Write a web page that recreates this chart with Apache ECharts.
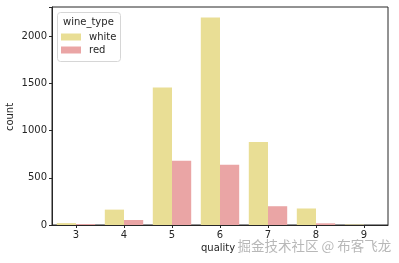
<!DOCTYPE html>
<html><head><meta charset="utf-8">
<script src="https://cdn.jsdelivr.net/npm/echarts@6/dist/echarts.min.js"></script>
<style>html,body{margin:0;padding:0;background:#fff}#c{width:399px;height:263px}</style>
</head><body><div id="c"></div>
<script>
const categories = ['3','4','5','6','7','8','9'];
const whiteCounts = [20, 163, 1457, 2198, 880, 175, 5];
const redCounts = [10, 53, 681, 638, 199, 18, 0];
const yTicks = [0, 500, 1000, 1500, 2000];
const font = 'DejaVu Sans';
const chart = echarts.init(document.getElementById('c'), null, {renderer: 'canvas'});
chart.setOption({
  animation: false,
  grid: {left: 52, right: 11, top: 7, bottom: 38, show: true, borderColor: '#262626', borderWidth: 1, containLabel: false},
  legend: {
    orient: 'vertical', left: 61, top: 32, padding: 0,
    itemWidth: 20, itemHeight: 7, itemGap: 3,
    icon: 'rect',
    textStyle: {fontFamily: font, fontSize: 10, color: '#262626', padding: [0,0,0,3]},
    data: ['white', 'red']
  },
  graphic: [
    {type: 'rect', left: 57, top: 12, shape: {width: 63, height: 49, r: 3}, style: {fill: 'rgba(255,255,255,0.8)', stroke: '#d6d6d6', lineWidth: 1}, z: 0},
    {type: 'text', left: 63, top: 17, style: {text: 'wine_type', font: '10px DejaVu Sans', fill: '#262626'}},
    {type: 'text', x: 10, y: 117, rotation: Math.PI/2, style: {text: 'count', font: '10px DejaVu Sans', fill: '#262626', align: 'center', verticalAlign: 'middle'}},
    {type: 'text', left: 201, top: 243, style: {text: 'quality', font: '10px DejaVu Sans', fill: '#262626'}},
    {type: 'text', left: 237, top: 239, style: {text: '掘金技术社区 @ 布客飞龙', font: '13.5px "Noto Sans CJK SC"', fill: '#b8b8b8', stroke: '#ffffff', lineWidth: 1}}
  ],
  xAxis: {
    type: 'category', data: categories,
    axisLine: {lineStyle: {color: '#262626', width: 1}},
    axisTick: {show: true, alignWithLabel: true, length: 3, lineStyle: {color: '#262626'}},
    axisLabel: {fontFamily: font, fontSize: 10, color: '#262626', margin: 5},
    splitLine: {show: false}
  },
  yAxis: {
    type: 'value', min: 0, max: 2310, interval: 500,
    axisLine: {show: true, lineStyle: {color: '#262626', width: 1}},
    axisTick: {show: true, length: 3, lineStyle: {color: '#262626'}},
    axisLabel: {fontFamily: font, fontSize: 10, color: '#262626', margin: 5,
      formatter: v => yTicks.includes(v) ? String(v) : ''},
    splitLine: {show: false}
  },
  series: [
    {name: 'white', type: 'bar', data: whiteCounts, barWidth: '40%', barGap: '0%', barCategoryGap: '20%',
     itemStyle: {color: '#e9de95'}},
    {name: 'red', type: 'bar', data: redCounts, barWidth: '40%', barGap: '0%',
     itemStyle: {color: '#eaa5a5'}}
  ]
});
</script></body></html>
